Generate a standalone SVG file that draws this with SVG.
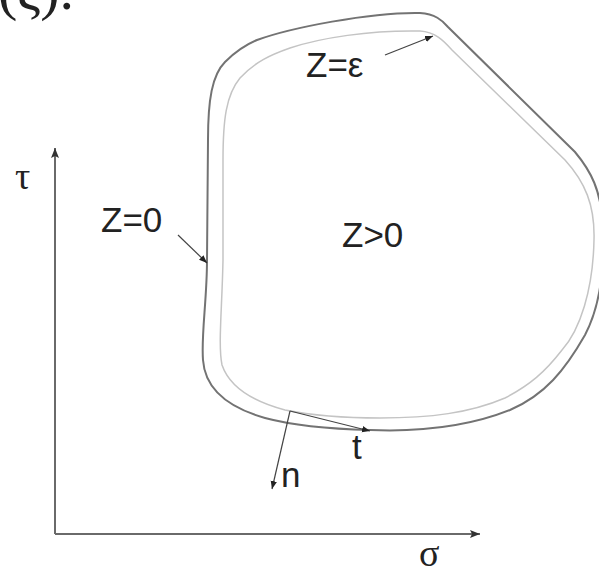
<svg xmlns="http://www.w3.org/2000/svg" width="599" height="572" viewBox="0 0 599 572">
<style>
.lbl{font-family:"Liberation Sans",Arial,sans-serif;font-size:35px;fill:#222}
.ser{font-family:"Liberation Serif","Times New Roman",serif;fill:#222}
.axis{stroke:#6a6a6a;stroke-width:2;fill:none}
.ptr{stroke:#444;stroke-width:1.2;fill:none}
</style>
<defs>
<marker id="ah" viewBox="0 0 10 10" refX="10" refY="5" markerWidth="8" markerHeight="8" markerUnits="userSpaceOnUse" orient="auto"><path d="M0,1 L10,5 L0,9 Z" fill="#222"/></marker>
<marker id="ax" viewBox="0 0 10 10" refX="10" refY="5" markerWidth="16" markerHeight="10" markerUnits="userSpaceOnUse" orient="auto"><path d="M0,1 L10,5 L0,9 L2,5 Z" fill="#333"/></marker>
</defs>
<text class="ser" x="-2" y="9" font-size="58">(ς).</text>
<g id="boundary">
<path d="M257,40 C290,28 370,12 420,13 C435,14 442,20 448,27 L575,152 C590,170 602,190 603,230 C604,280 598,310 585,335 C565,370 545,395 510,410 C470,426 420,432 370,430 C330,429 295,426 265,418 C230,408 205,390 203,360 C201,335 207,300 207,260 L208,140 C208,100 212,75 225,62 C235,52 245,45 257,40 Z" fill="none" stroke="#737373" stroke-width="2"/>
<path d="M290,48 C320,38 370,30 420,31 C435,32 443,40 452,50 L565,160 C585,182 595,205 594,240 C593,290 580,330 562,350 C545,372 530,385 505,398 C470,413 430,418 380,418 C340,418 310,415 285,410 C255,402 230,388 222,365 C218,345 222,310 223,260 L223,160 C223,120 226,95 240,78 C255,62 270,55 290,48 Z" fill="none" stroke="#c4c4c4" stroke-width="1.5"/>
</g>
<g id="connectors">
<line class="axis" x1="55" y1="534" x2="55" y2="148" marker-end="url(#ax)"/>
<line class="axis" x1="55" y1="534" x2="480" y2="534" marker-end="url(#ax)"/>
<line class="ptr" x1="385" y1="55" x2="433" y2="36" marker-end="url(#ah)"/>
<line class="ptr" x1="178" y1="235" x2="207" y2="263" marker-end="url(#ah)"/>
<line class="ptr" x1="290" y1="411" x2="370" y2="431" marker-end="url(#ah)"/>
<line class="ptr" x1="290" y1="411" x2="272" y2="489" marker-end="url(#ah)"/>
</g>
<g id="labels">
<text class="lbl" x="306" y="77">Z=ε</text>
<text class="lbl" x="342" y="247">Z&gt;0</text>
<text class="lbl" x="101" y="232">Z=0</text>
<text class="lbl" x="352" y="459">t</text>
<text class="lbl" x="281" y="487">n</text>
<text class="ser" x="15" y="189" font-size="38">τ</text>
<text class="ser" x="419" y="566" font-size="38">σ</text>
</g>
</svg>
